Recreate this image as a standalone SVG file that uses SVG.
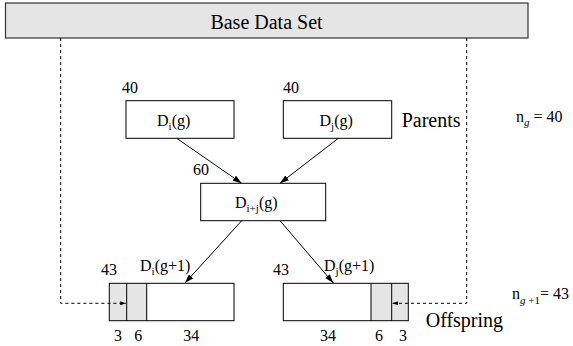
<svg xmlns="http://www.w3.org/2000/svg" width="573" height="346" viewBox="0 0 573 346" font-family="'Liberation Serif', 'Times New Roman', 'DejaVu Serif', serif">
<style>
text{font-family:"Liberation Serif","Times New Roman","DejaVu Serif",serif;fill:#000}
.t16{font-size:16px}
.t20{font-size:20px}
.sub{font-size:11px}
.box{fill:#fff;stroke:#000;stroke-width:1}
.frame{fill:none;stroke:#000;stroke-width:1}
.gray{fill:#e5e5e5;stroke:none}
.conn{stroke:#000;stroke-width:1;fill:none}
.div{stroke:#000;stroke-width:1}
.dash{stroke:#000;stroke-width:1;fill:none;stroke-dasharray:3,3}
</style>
<defs>
<marker id="ah" markerUnits="userSpaceOnUse" markerWidth="9" markerHeight="6" refX="9" refY="3" orient="auto">
<path d="M0,0 L9,3 L0,6 z" fill="#000"/>
</marker>
<marker id="ahs" markerUnits="userSpaceOnUse" markerWidth="6" markerHeight="4" refX="6" refY="2" orient="auto">
<path d="M0,0 L6,2 L0,4 z" fill="#000"/>
</marker>
</defs>

<g id="base">
<rect x="5.5" y="3" width="522.5" height="35" fill="#e5e5e5" stroke="#333" stroke-width="1.2"/>
<text class="t20" x="266.5" y="29" text-anchor="middle">Base Data Set</text>
</g>

<g id="Di_g">
<rect class="box" x="126" y="100.7" width="108" height="37.6"/>
<text class="t16" x="122" y="93">40</text>
<text class="t16" x="157" y="125.5">D<tspan class="sub" dy="4">i</tspan><tspan dy="-4">(g)</tspan></text>
</g>

<g id="Dj_g">
<rect class="box" x="283.3" y="100.7" width="108.4" height="37.6"/>
<text class="t16" x="283" y="93">40</text>
<text class="t16" x="319.5" y="125.5">D<tspan class="sub" dy="4">j</tspan><tspan dy="-4">(g)</tspan></text>
</g>

<g id="parents-label">
<text class="t20" x="401.7" y="127">Parents</text>
</g>

<g id="ng-label">
<text class="t16" x="516" y="122">n<tspan class="sub" font-style="italic" dy="4">g</tspan><tspan dy="-4"> = 40</tspan></text>
</g>

<g id="Dij_g">
<rect class="box" x="200.7" y="183.3" width="125" height="37.4"/>
<text class="t16" x="193" y="175">60</text>
<text class="t16" x="235" y="208">D<tspan class="sub" dy="4">i+j</tspan><tspan dy="-4">(g)</tspan></text>
</g>

<g id="Di_g1">
<rect class="gray" x="109.3" y="283.3" width="37.4" height="37.4"/>
<rect class="frame" x="109.3" y="283.3" width="124.7" height="37.4"/>
<line class="div" x1="126.7" y1="283.3" x2="126.7" y2="320.7"/>
<line class="div" x1="146.7" y1="283.3" x2="146.7" y2="320.7" stroke-width="1.5"/>
<text class="t16" x="101" y="275">43</text>
<text class="t16" x="140" y="271">D<tspan class="sub" dy="4">i</tspan><tspan dy="-4">(g+1)</tspan></text>
<text class="t16" x="118" y="341" text-anchor="middle">3</text>
<text class="t16" x="138.3" y="341" text-anchor="middle">6</text>
<text class="t16" x="191.3" y="341" text-anchor="middle">34</text>
</g>

<g id="Dj_g1">
<rect class="gray" x="371" y="283.3" width="37.3" height="37.4"/>
<rect class="frame" x="283.3" y="283.3" width="125" height="37.4"/>
<line class="div" x1="371" y1="283.3" x2="371" y2="320.7" stroke-width="1.5"/>
<line class="div" x1="391.7" y1="283.3" x2="391.7" y2="320.7"/>
<text class="t16" x="273" y="275">43</text>
<text class="t16" x="324" y="271">D<tspan class="sub" dy="4">j</tspan><tspan dy="-4">(g+1)</tspan></text>
<text class="t16" x="328" y="341" text-anchor="middle">34</text>
<text class="t16" x="379" y="341" text-anchor="middle">6</text>
<text class="t16" x="403" y="341" text-anchor="middle">3</text>
</g>

<g id="offspring-label">
<text class="t20" x="425.7" y="327">Offspring</text>
</g>

<g id="ng1-label">
<text class="t16" x="512" y="299">n<tspan class="sub" dy="5"><tspan font-style="italic">g</tspan> +1</tspan><tspan dy="-5">= 43</tspan></text>
</g>

<g id="connectors">
<line class="conn" x1="176.7" y1="138.3" x2="241.7" y2="183.3" marker-end="url(#ah)"/>
<line class="conn" x1="338.3" y1="138.3" x2="280" y2="183.3" marker-end="url(#ah)"/>
<line class="conn" x1="241.7" y1="220.7" x2="185" y2="283" marker-end="url(#ah)"/>
<line class="conn" x1="280" y1="220.7" x2="333.3" y2="283" marker-end="url(#ah)"/>
<polyline class="dash" points="60.7,38 60.7,303.3 126.2,303.3" marker-end="url(#ahs)"/>
<polyline class="dash" points="466.7,38 466.7,303.3 392.2,303.3" marker-end="url(#ahs)"/>
</g>
</svg>
